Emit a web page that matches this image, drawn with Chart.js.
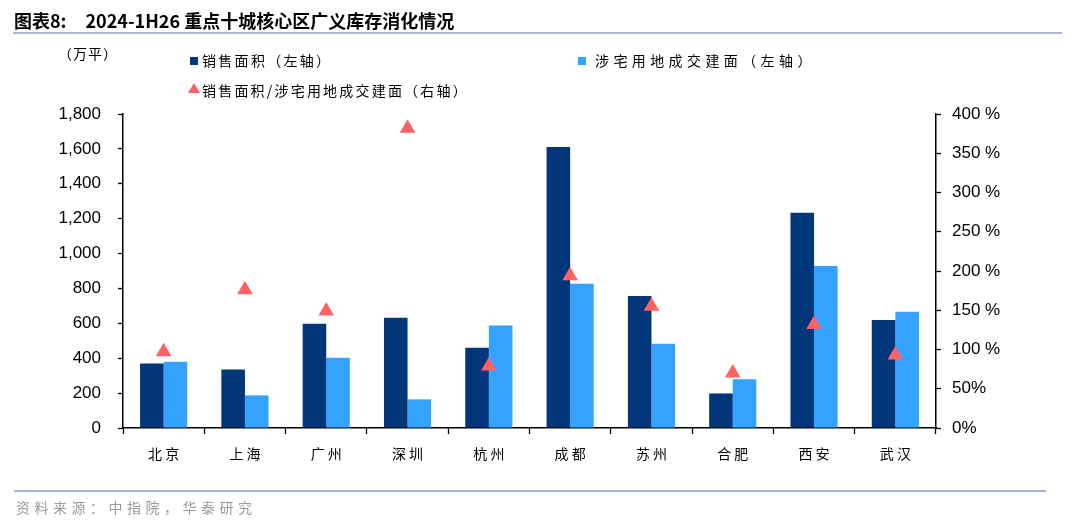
<!DOCTYPE html>
<html>
<head>
<meta charset="utf-8">
<script src="https://cdn.jsdelivr.net/npm/chart.js@4"></script>
<style>
  html, body { margin: 0; padding: 0; background: #fff; }
  body { width: 1080px; height: 525px; position: relative; overflow: hidden; font-family: "Noto Sans CJK SC", sans-serif; }
  #wrap { position: absolute; left: 0; top: 0; width: 1080px; height: 525px; }
  .abs { position: absolute; white-space: nowrap; }
  #title { left: 14px; top: 7px; font-size: 18px; font-weight: 700; color: #000; }
  .rule { position: absolute; height: 2px; background: #A7B9D0; }
  #unit { left: 58px; top: 43px; font-size: 14px; letter-spacing: 1px; color: #000; }
  .leg { font-size: 14px; letter-spacing: 2px; color: #000; }
  .sq { position: absolute; width: 8px; height: 8px; }
  #src { left: 16px; top: 497px; font-size: 14px; letter-spacing: 4.5px; color: #9a9a9a; }
</style>
</head>
<body>
<div id="wrap"><canvas id="c" width="1080" height="525"></canvas></div>
<div id="title" class="abs">图表8:<span style="display:inline-block;width:19px"></span>2024-1H26 重点十城核心区广义库存消化情况</div>
<div class="rule" style="left:13px; top:32px; width:1049px;"></div>
<div id="unit" class="abs">（万平）</div>
<div class="sq" style="left:190px; top:57px; background:#01377A;"></div>
<div class="abs leg" style="left:202px; top:50px; letter-spacing:2.3px;">销售面积（左轴）</div>
<div class="sq" style="left:578px; top:57px; background:#33A3FF;"></div>
<div class="abs leg" style="left:595px; top:50px; letter-spacing:4.4px;">涉宅用地成交建面（左轴）</div>
<svg class="abs" style="left:188px; top:83px;" width="12" height="11"><polygon points="6,0 12,10 0,10" fill="#FF6265"/></svg>
<div class="abs leg" style="left:202px; top:80px; letter-spacing:2.2px;">销售面积/涉宅用地成交建面（右轴）</div>
<div class="rule" style="left:14px; top:490px; width:1032px;"></div>
<div id="src" class="abs">资料来源：中指院，华泰研究</div>
<script>
const categories = ["北 京", "上 海", "广 州", "深 圳", "杭 州", "成 都", "苏 州", "合 肥", "西 安", "武 汉"];
const salesArea = [370, 336, 598, 632, 460, 1611, 757, 198, 1234, 619];
const landArea = [380, 187, 403, 164, 587, 827, 483, 279, 929, 667];
const ratioPct = [97, 176, 149, 382, 79, 194, 155, 70, 132, 93];
const leftTicks = ["0", "200", "400", "600", "800", "1,000", "1,200", "1,400", "1,600", "1,800"];
const rightTicks = ["0%", "50%", "100 %", "150 %", "200 %", "250 %", "300 %", "350 %", "400 %"];

const ctx = document.getElementById('c').getContext('2d');
new Chart(ctx, {
  type: 'bar',
  data: {
    labels: categories,
    datasets: [
      {
        type: 'line',
        label: '销售面积/涉宅用地成交建面（右轴）',
        data: ratioPct,
        yAxisID: 'y1',
        showLine: false,
        pointStyle: 'triangle',
        pointRadius: 9,
        pointHoverRadius: 9,
        pointBackgroundColor: '#FF6265',
        pointBorderColor: '#FF6265',
        pointBorderWidth: 0,
        order: 0
      },
      {
        label: '销售面积（左轴）',
        data: salesArea,
        backgroundColor: '#01377A',
        yAxisID: 'y',
        categoryPercentage: 0.58,
        barPercentage: 1.0,
        order: 1
      },
      {
        label: '涉宅用地成交建面（左轴）',
        data: landArea,
        backgroundColor: '#33A3FF',
        yAxisID: 'y',
        categoryPercentage: 0.58,
        barPercentage: 1.0,
        order: 1
      }
    ]
  },
  options: {
    responsive: false,
    animation: false,
    devicePixelRatio: 1,
    layout: { padding: { top: 114, left: 0, right: 0, bottom: 0 } },
    plugins: { legend: { display: false }, tooltip: { enabled: false } },
    scales: {
      x: {
        grid: { offset: true, drawOnChartArea: false, tickLength: 6, color: '#000', tickColor: '#000', tickWidth: 1.3 },
        border: { color: '#000', width: 1.5 },
        ticks: { color: '#000', font: { family: '"Noto Sans CJK SC"', size: 14 }, padding: 11, maxRotation: 0 },
        afterFit: s => { s.height = 525 - 428; }
      },
      y: {
        position: 'left',
        min: 0, max: 1800,
        grid: { drawOnChartArea: false, tickLength: 5, color: '#000', tickColor: '#000', tickWidth: 1.3 },
        border: { color: '#000', width: 1.5 },
        ticks: {
          stepSize: 200, color: '#000', padding: 17,
          font: { family: '"Liberation Sans", Arial', size: 17 },
          callback: (v, i) => leftTicks[i]
        },
        afterFit: s => { s.width = 123; }
      },
      y1: {
        position: 'right',
        min: 0, max: 400,
        grid: { drawOnChartArea: false, tickLength: 5, color: '#000', tickColor: '#000', tickWidth: 1.3 },
        border: { color: '#000', width: 1.5 },
        ticks: {
          stepSize: 50, color: '#000', padding: 11,
          font: { family: '"Liberation Sans", Arial', size: 17 },
          callback: (v, i) => rightTicks[i]
        },
        afterFit: s => { s.width = 1080 - 936; }
      }
    }
  }
});
</script>
</body>
</html>
